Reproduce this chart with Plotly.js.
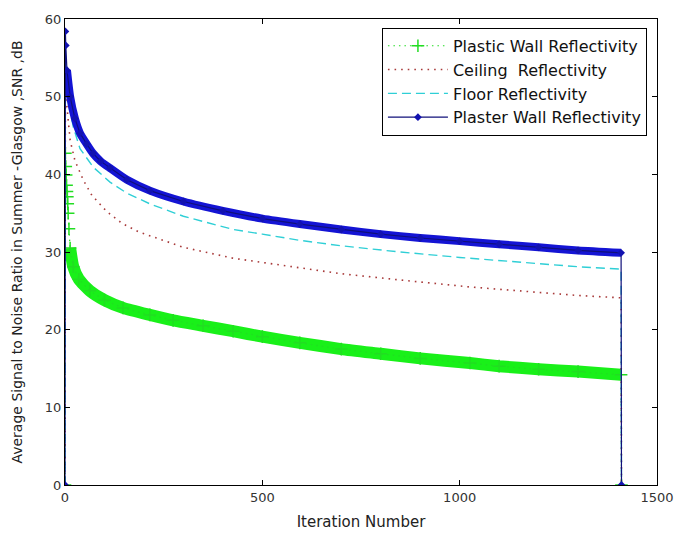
<!DOCTYPE html>
<html>
<head>
<meta charset="utf-8">
<script src="https://cdn.plot.ly/plotly-3.0.1.min.js"></script>
<style>html,body{margin:0;padding:0;background:#fff;}#chart{width:675px;height:535px;}</style>
</head>
<body>
<div id="chart"></div>
<script>
// Series names (legend order)
const seriesNames = ["Plastic Wall Reflectivity", "Ceiling  Reflectivity", "Floor Reflectivity", "Plaster Wall Reflectivity"];

// Plastic wall (green, dotted with + markers)
const plasticIter = [0, 1, 2, 3, 4, 5, 6, 7, 8, 10, 13, 21, 35, 63, 100, 147, 215, 274, 350, 426, 500, 595, 700, 800, 900, 1026, 1100, 1200, 1300, 1409, 1410];
const plasticSNR  = [0, 42.7, 41.0, 39.9, 38.6, 37.8, 37.1, 36.2, 35.0, 33.0, 30.5, 28.1, 26.5, 25.0, 23.8, 22.8, 21.9, 21.2, 20.5, 19.8, 19.1, 18.3, 17.5, 16.9, 16.3, 15.7, 15.3, 14.9, 14.6, 14.2, 0];

// Ceiling (red dotted)
const ceilingIter = [0, 1, 2, 4, 8, 13, 25, 46, 68, 106, 144, 186, 232, 300, 426, 595, 700, 849, 1026, 1200, 1300, 1409, 1410];
const ceilingSNR  = [0, 55.0, 52.5, 49.2, 46.5, 44.4, 41.8, 39.3, 37.3, 35.2, 33.7, 32.6, 31.8, 30.6, 29.2, 28.0, 27.2, 26.4, 25.5, 24.8, 24.4, 24.1, 0];

// Floor (cyan dashed)
const floorIter = [0, 1, 2, 5, 10, 21, 38, 72, 114, 156, 215, 300, 426, 500, 595, 700, 849, 1000, 1100, 1200, 1300, 1409, 1410];
const floorSNR  = [0, 56.0, 54.0, 51.5, 49.0, 46.1, 43.3, 40.9, 39.0, 37.6, 36.2, 34.6, 32.9, 32.3, 31.5, 30.8, 30.0, 29.3, 28.9, 28.5, 28.1, 27.8, 0];

// Plaster wall (blue solid with dot markers)
const plasterIter = [0, 1, 2, 5, 13, 25, 38, 55, 71, 90, 114, 157, 215, 300, 400, 500, 595, 700, 800, 900, 1000, 1100, 1200, 1300, 1409, 1410];
const plasterSNR  = [0, 58.4, 56.6, 53.4, 50.0, 47.2, 45.3, 43.9, 42.7, 41.7, 40.8, 39.3, 37.9, 36.5, 35.3, 34.3, 33.6, 32.9, 32.3, 31.8, 31.4, 31.0, 30.6, 30.2, 29.9, 0];

// Axis ticks
const xTicks = [0, 500, 1000, 1500];
const yTicks = [0, 10, 20, 30, 40, 50, 60];

// dense part of each series (where the markers merge into a band)
const band = (a, from) => a.slice(from, a.length - 1);

const traces = [
  {x: band(plasticIter, 10), y: band(plasticSNR, 10), mode: 'lines', showlegend: false, hoverinfo: 'skip',
   line: {color: '#19f019', width: 12, shape: 'spline', smoothing: 0.6}},
  {x: plasticIter, y: plasticSNR, mode: 'lines+markers', name: seriesNames[0],
   line: {color: '#22dd22', width: 1.2, dash: '1.5px,4px'},
   marker: {symbol: 'cross-thin-open', size: 9, line: {color: '#11dd11', width: 1.5}}},
  {x: ceilingIter, y: ceilingSNR, mode: 'lines', name: seriesNames[1],
   line: {color: '#a83a3a', width: 1.6, dash: '1.6px,5px'}},
  {x: floorIter, y: floorSNR, mode: 'lines', name: seriesNames[2],
   line: {color: '#2fcfd6', width: 1.4, dash: '9px,5px'}},
  {x: band(plasterIter, 3), y: band(plasterSNR, 3), mode: 'lines', showlegend: false, hoverinfo: 'skip',
   line: {color: '#1414d4', width: 8, shape: 'spline', smoothing: 0.6}},
  {x: plasterIter, y: plasterSNR, mode: 'lines+markers', name: seriesNames[3],
   line: {color: '#10107a', width: 1.2},
   marker: {symbol: 'diamond', size: 6, color: '#1212b0'}}
];

const fontFam = '"DejaVu Sans", "Liberation Sans", Arial, sans-serif';

const layout = {
  width: 675, height: 535,
  margin: {l: 65, r: 18, t: 19, b: 50, pad: 0},
  paper_bgcolor: '#ffffff', plot_bgcolor: '#ffffff',
  font: {family: fontFam, size: 13, color: '#222'},
  showlegend: true,
  legend: {
    x: 0.983, xanchor: 'right', y: 0.981, yanchor: 'top',
    bgcolor: '#ffffff', bordercolor: '#000000', borderwidth: 1,
    font: {family: fontFam, size: 16, color: '#111'},
    itemwidth: 60,
    tracegroupgap: 0
  },
  xaxis: {
    range: [0, 1500], tickvals: xTicks, ticktext: xTicks.map(String),
    showgrid: false, zeroline: false, showline: true, linecolor: '#000', linewidth: 1,
    mirror: 'ticks', ticks: 'inside', ticklen: 5, tickcolor: '#000',
    tickfont: {family: fontFam, size: 13, color: '#333'},
    title: {text: 'Iteration Number', font: {family: fontFam, size: 15, color: '#222'}, standoff: 12}
  },
  yaxis: {
    range: [0, 60], tickvals: yTicks, ticktext: yTicks.map(String),
    showgrid: false, zeroline: false, showline: true, linecolor: '#000', linewidth: 1,
    mirror: 'ticks', ticks: 'inside', ticklen: 5, tickcolor: '#000',
    tickfont: {family: fontFam, size: 13, color: '#333'},
    title: {text: 'Average Signal to Noise Ratio in Summer -Glasgow ,SNR ,dB', font: {family: fontFam, size: 14, color: '#222'}, standoff: 18}
  }
};

Plotly.newPlot('chart', traces, layout, {displayModeBar: false, staticPlot: true});
</script>
</body>
</html>
